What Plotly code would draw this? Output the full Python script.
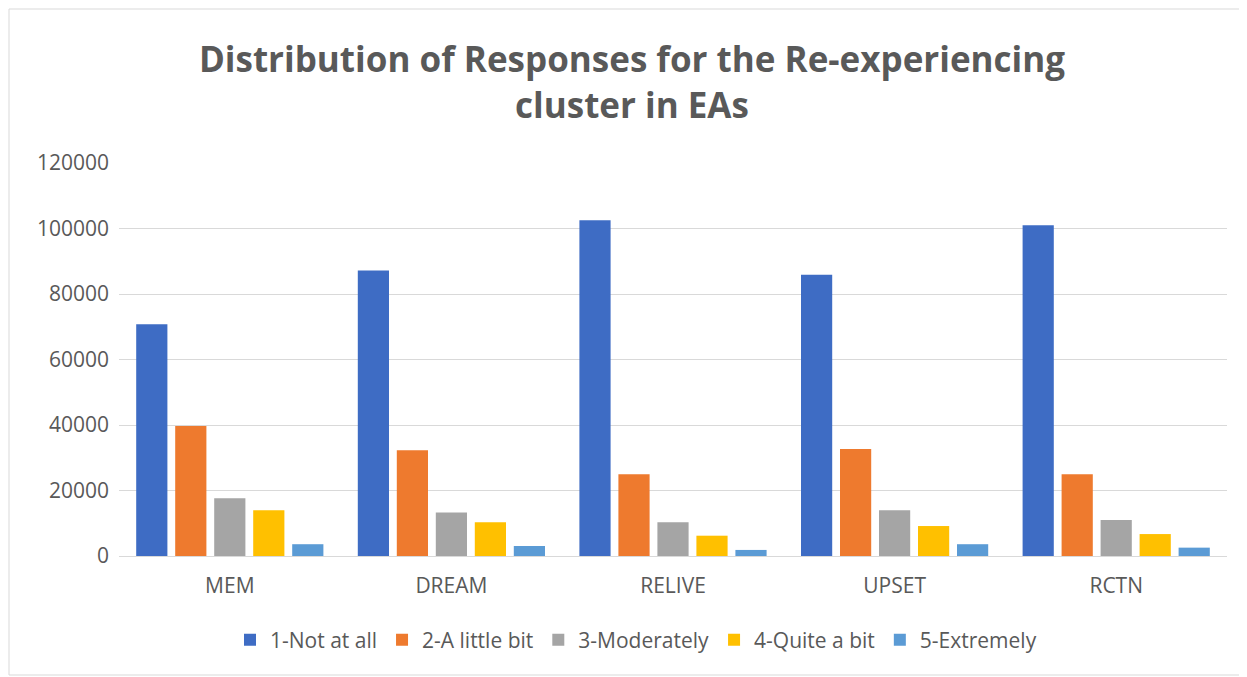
import plotly.graph_objects as go

categories = ["MEM", "DREAM", "RELIVE", "UPSET", "RCTN"]
series_names = ["1-Not at all", "2-A little bit", "3-Moderately", "4-Quite a bit", "5-Extremely"]
not_at_all = [70800, 87200, 102500, 85900, 101000]
a_little_bit = [39700, 32300, 25000, 32700, 25000]
moderately = [17600, 13300, 10300, 14000, 11000]
quite_a_bit = [14000, 10300, 6200, 9150, 6700]
extremely = [3600, 3050, 1850, 3600, 2550]
colors = ["#3E6CC4", "#EE7A2E", "#A5A5A5", "#FFC000", "#5B9BD5"]

values = [not_at_all, a_little_bit, moderately, quite_a_bit, extremely]

FONT = "'Open Sans', Lato, sans-serif"
W, H = 1239, 669
L, R, T, B = 111, 20, 155, 121
PW, PH = W - L - R, H - T - B

fig = go.Figure()
for name, vals, col in zip(series_names, values, colors):
    fig.add_trace(go.Bar(x=categories, y=vals, name=name, marker=dict(color=col, line=dict(width=0))))

fig.update_layout(
    width=W, height=H,
    margin=dict(l=L, r=R, t=T, b=B),
    paper_bgcolor="white", plot_bgcolor="white",
    barmode="group", bargap=0.12, bargroupgap=0.2,
    title=dict(text="<b>Distribution of Responses for the Re-experiencing<br>cluster in EAs</b>",
               x=(632 - 8 - L) / PW, xanchor="center", xref="paper",
               y=1 - (72 - 8) / H, yanchor="middle",
               font=dict(family=FONT, size=35, color="#595959")),
    font=dict(family=FONT, color="#595959", size=21),
    xaxis=dict(showgrid=False, showline=True, linecolor="#D9D9D9", linewidth=1,
               ticks="", ticklabelstandoff=11, tickfont=dict(size=21, color="#595959")),
    yaxis=dict(range=[0, 120000], dtick=20000, showgrid=True, gridcolor="#D9D9D9", gridwidth=1,
               zeroline=False, showline=False, ticks="", tickformat="d", ticklabelstandoff=9,
               tickfont=dict(size=21, color="#595959")),
    legend=dict(orientation="h", x=(636 - 8 - L) / PW, xanchor="center",
                y=-(640 - 8 - (T + PH)) / PH, yanchor="middle",
                font=dict(size=21, color="#595959"), traceorder="normal"),
    shapes=[dict(type="rect", xref="paper", yref="paper",
                 x0=(-L + 1) / PW, x1=1 + (R - 1) / PW, y0=-(B - 2) / PH, y1=1 + (T - 1) / PH,
                 line=dict(color="#D9D9D9", width=1), fillcolor="rgba(0,0,0,0)")],
)

fig.write_html("out.html")
